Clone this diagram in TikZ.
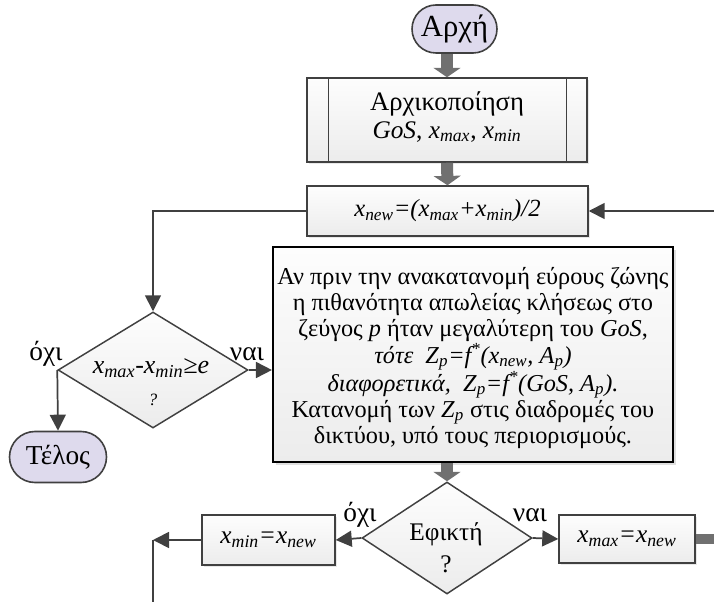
\documentclass[tikz,border=0pt]{standalone}
\usepackage{fontspec}
\setmainfont{Liberation Serif}
\usetikzlibrary{arrows.meta,shapes.geometric,shapes.misc,shadows}
\newcommand{\sbs}[1]{\textsubscript{\itshape #1}}
\definecolor{lineg}{RGB}{64,64,64}
\definecolor{thickg}{RGB}{112,112,112}
\definecolor{termfill}{RGB}{222,218,237}
\definecolor{boxtop}{RGB}{253,253,253}
\definecolor{boxbot}{RGB}{236,236,236}
\tikzset{
  terminal/.style={rounded rectangle, draw=lineg, line width=1.2pt, fill=termfill, inner sep=0pt},
  procbox/.style={rectangle, draw=lineg, line width=1.1pt, top color=boxtop, bottom color=boxbot, inner sep=0pt,
     drop shadow={opacity=0.18, shadow xshift=1.5pt, shadow yshift=-1.5pt}, font=\fontsize{19}{22}\selectfont, align=center},
  bigbox/.style={rectangle, draw=black, line width=1.6pt, top color=boxtop, bottom color=boxbot, inner sep=0pt,
     drop shadow={opacity=0.25, shadow xshift=2pt, shadow yshift=-2pt}},
  decision/.style={diamond, draw=lineg, line width=1.1pt, top color=boxtop, bottom color=boxbot, inner sep=0pt},
  plain/.style={inner sep=0pt, font=\fontsize{19}{22}\selectfont},
  yesno/.style={inner sep=0pt, font=\fontsize{20.5}{24}\selectfont},
  thinarrow/.style={draw=lineg, line width=1.3pt, -{Triangle[length=12pt,width=12pt]}},
  thinline/.style={draw=lineg, line width=1.3pt},
  thickarrow/.style={draw=thickg, line width=9pt, -{Triangle[length=7pt,width=20pt]}},
  thickline/.style={draw=thickg, line width=7.5pt}
}
\begin{document}
\begin{tikzpicture}[x=0.75pt,y=-0.75pt]
\useasboundingbox (0,0) rectangle (714,602);
% nodes
\node[terminal, minimum width=63.75pt, minimum height=36pt, font=\fontsize{23}{26}\selectfont] (start) at (454.5,29) {Αρχή};
\node[procbox, minimum width=210pt, minimum height=63pt] (init) at (447,120) {};
\node[inner sep=0pt, align=center, font=\fontsize{19}{22}\selectfont] (initt) at (447,117)
  {{\fontsize{20}{22}\selectfont Αρχικοποίηση}\\[-1.5pt]\textit{GoS}, \textit{x}\sbs{max}, \textit{x}\sbs{min}};
\draw[lineg, line width=1.1pt] ([xshift=16.5pt]init.north west) -- ([xshift=16.5pt]init.south west);
\draw[lineg, line width=1.1pt] ([xshift=-16pt]init.north east) -- ([xshift=-16pt]init.south east);
\node[procbox, minimum width=210.75pt, minimum height=37.5pt, font=\fontsize{18.5}{22}\selectfont] (xnew) at (447.5,211)
  {\textit{x}\sbs{new}\textit{=(x}\sbs{max}\textit{+x}\sbs{min}\textit{)/2}};
\node[decision, minimum width=142.5pt, minimum height=87pt] (d1) at (153,370) {};
\node[plain, font=\fontsize{19.5}{22}\selectfont] (d1t) at (151,368) {\textit{x}\sbs{max}\textit{-x}\sbs{min}\textit{≥e}};
\node[inner sep=0pt, font=\fontsize{13}{15}\selectfont\itshape] (d1q) at (153,400) {?};
\node[yesno] (d1no) at (46,354) {όχι};
\node[yesno] (d1yes) at (247,354) {ναι};
\node[terminal, minimum width=72.75pt, minimum height=38.25pt, font=\fontsize{20.5}{24}\selectfont] (end) at (58,457) {Τέλος};
\node[bigbox, minimum width=300pt, minimum height=161.25pt] (big) at (473,354.5) {};
\node[inner sep=0pt, align=center, font=\fontsize{18.2}{19.8}\selectfont] (bigt) at (473,358)
  {Αν πριν την ανακατανομή εύρους ζώνης\\
   η πιθανότητα απωλείας κλήσεως στο\\
   ζεύγος \textit{p} ήταν μεγαλύτερη του \textit{GoS},\\
   \textit{τότε\ \ Z}\sbs{p}\textit{=f\textsuperscript{*}(x}\sbs{new}\textit{, A}\sbs{p}\textit{)}\\
   \textit{διαφορετικά,\ \ Z}\sbs{p}\textit{=f\textsuperscript{*}(GoS, A}\sbs{p}\textit{).}\\
   Κατανομή των \textit{Z}\sbs{p} στις διαδρομές του\\
   δικτύου, υπό τους περιορισμούς.};
\node[decision, minimum width=127.5pt, minimum height=84pt] (d2) at (447,538) {};
\node[plain, align=center, font=\fontsize{19}{24}\selectfont] (d2t) at (446,548) {Εφικτή\\?};
\node[yesno] (d2no) at (360,515) {όχι};
\node[yesno] (d2yes) at (530,515) {ναι};
\node[procbox, minimum width=99.75pt, minimum height=37.5pt] (xmin) at (268.5,540)
  {\textit{x}\sbs{min}\textit{=x}\sbs{new}};
\node[procbox, minimum width=102pt, minimum height=36pt] (xmax) at (627,539)
  {\textit{x}\sbs{max}\textit{=x}\sbs{new}};
% coordinates for free ends
\coordinate (rin) at (714,211);
\coordinate (lcorner) at (153,211);
\coordinate (lp) at (153,540);
\coordinate (lpb) at (153,602);
\coordinate (rout) at (714,539);
% connectors
\draw[thickarrow] (start.south -| init.north) -- (init.north);
\draw[thickarrow] (init.south) -- (xnew.north);
\draw[thinarrow] (rin) -- (xnew.east);
\draw[thinarrow] (xnew.west) -- (lcorner) -- (d1.north);
\draw[thinarrow] (d1.west) -- (end.north);
\draw[thinarrow] (d1.east) -- (big.west |- d1.east);
\draw[thickarrow] (big.south -| d2.north) -- (d2.north);
\draw[thinarrow] (d2.west) -- (xmin.east);
\draw[thinarrow] (xmin.west) -- (lp);
\draw[thinline] (lp) -- (lpb);
\draw[thinarrow] (d2.east) -- (xmax.west);
\draw[thickline] (xmax.east) -- (rout);
\end{tikzpicture}
\end{document}
